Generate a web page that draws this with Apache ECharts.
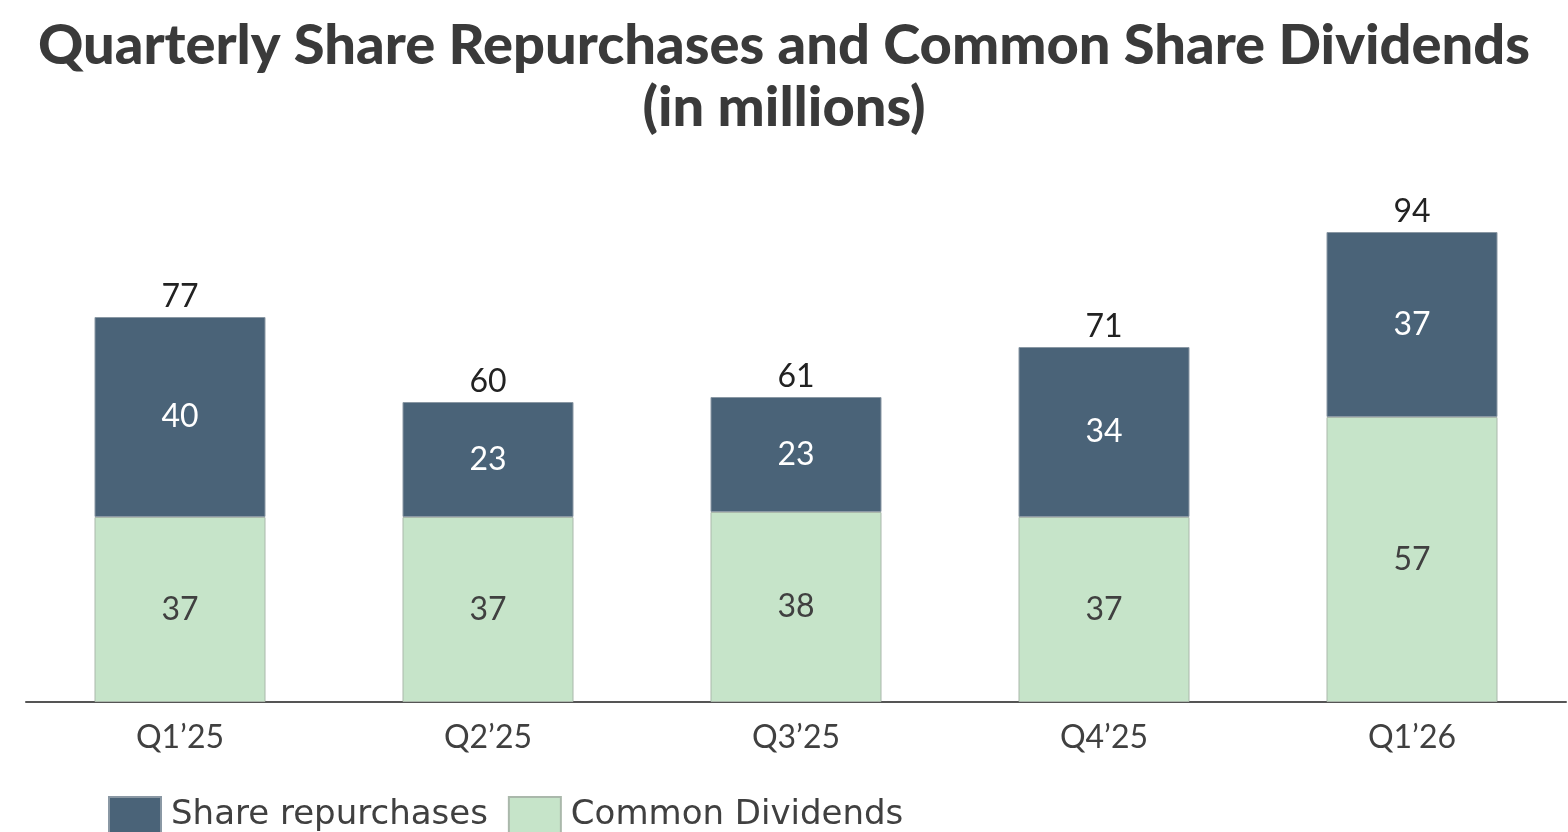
<!DOCTYPE html>
<html>
<head>
<meta charset="utf-8">
<script src="https://cdn.jsdelivr.net/npm/echarts@6/dist/echarts.min.js"></script>
<style>
  html, body { margin: 0; padding: 0; background: #fff; }
  #main { width: 1568px; height: 832px; }
</style>
</head>
<body>
<div id="main"></div>
<script>
// 数据
const quarters = ['Q1\u201925', 'Q2\u201925', 'Q3\u201925', 'Q4\u201925', 'Q1\u201926'];
const dividends = [37, 37, 38, 37, 57];
const repurchases = [40, 23, 23, 34, 37];
const totals = [77, 60, 61, 71, 94];

const chart = echarts.init(document.getElementById('main'));

const option = {
  animation: false,
  title: {
    text: 'Quarterly Share Repurchases and Common Share Dividends\n(in millions)',
    left: 'center',
    top: 10,
    textStyle: {
      fontFamily: 'Lato',
      fontWeight: 900,
      fontSize: 56,
      lineHeight: 62,
      color: '#3a3a3a'
    }
  },
  legend: {
    left: 103,
    top: 791,
    itemWidth: 52,
    itemHeight: 37,
    itemGap: 20,
    icon: 'rect',
    data: ['Share repurchases', 'Common Dividends'],
    textStyle: {
      fontFamily: 'DejaVu Sans',
      fontSize: 34,
      color: '#404040',
      padding: [4, 0, 0, 5]
    }
  },
  grid: {
    left: 26,
    right: 2,
    top: 202,
    bottom: 130
  },
  xAxis: {
    type: 'category',
    data: quarters,
    axisLine: { lineStyle: { color: '#555', width: 2 } },
    axisTick: { show: false },
    axisLabel: {
      fontFamily: 'Lato',
      fontSize: 32,
      color: '#404040',
      margin: 20
    }
  },
  yAxis: {
    type: 'value',
    min: 0,
    max: 100,
    show: false,
    splitLine: { show: false }
  },
  series: [
    {
      name: 'Common Dividends',
      type: 'bar',
      stack: 'total',
      barWidth: 171,
      data: dividends,
      itemStyle: { color: '#c6e4c9', borderColor: '#aab8ab', borderWidth: 1 },
      label: {
        show: true,
        position: 'inside',
        fontFamily: 'Lato',
        fontSize: 32,
        color: '#404040'
      }
    },
    {
      name: 'Share repurchases',
      type: 'bar',
      stack: 'total',
      barWidth: 171,
      data: repurchases,
      itemStyle: { color: '#4a6378', borderColor: '#8a98a4', borderWidth: 1 },
      label: {
        show: true,
        position: 'inside',
        fontFamily: 'Lato',
        fontSize: 32,
        color: '#ffffff'
      }
    },
    {
      name: 'Total',
      type: 'bar',
      barWidth: 171,
      barGap: '-100%',
      z: 0,
      data: totals,
      itemStyle: { color: 'transparent' },
      label: {
        show: true,
        position: 'top',
        distance: 4,
        fontFamily: 'Lato',
        fontSize: 32,
        color: '#222'
      }
    }
  ]
};

chart.setOption(option);
</script>
</body>
</html>
